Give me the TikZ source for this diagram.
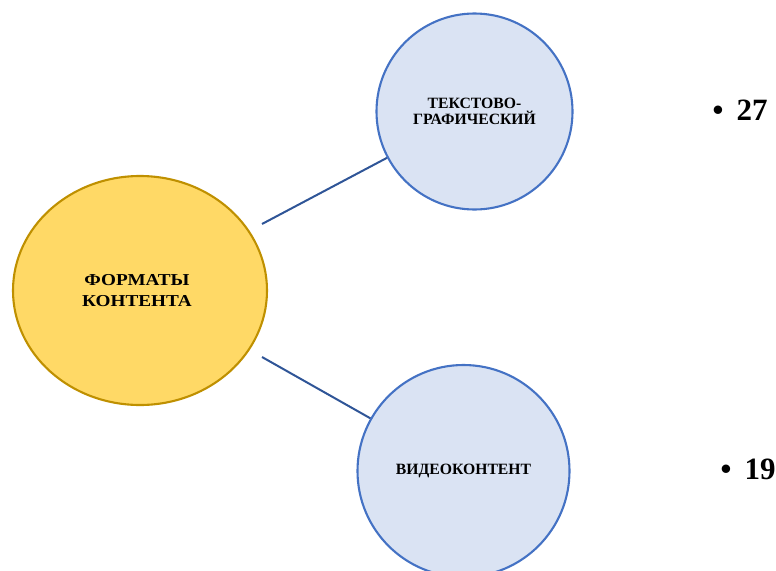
\documentclass[tikz,border=0pt]{standalone}
\usepackage{fontspec}
\setmainfont{Liberation Serif}
\newfontfamily\hubfont[FakeStretch=1.15]{Liberation Serif}
\usetikzlibrary{shapes.geometric}
\definecolor{goldfill}{HTML}{FFD966}
\definecolor{goldline}{HTML}{BF9000}
\definecolor{bluefill}{HTML}{DAE3F3}
\definecolor{blueline}{HTML}{4472C4}
\definecolor{linkline}{HTML}{2F5597}
\tikzset{
  hub/.style={ellipse, draw=goldline, fill=goldfill, line width=2.1pt,
    minimum width=254pt, minimum height=229pt, inner sep=0pt,
    font=\hubfont\bfseries\fontsize{16.7}{21.5}\selectfont, align=center},
  leaf/.style={circle, draw=blueline, fill=bluefill, line width=2.1pt,
    inner sep=0pt, align=center, font=\bfseries\fontsize{15.7}{16.5}\selectfont},
  link/.style={draw=linkline, line width=2pt},
  num/.style={font=\bfseries\fontsize{31}{33}\selectfont, anchor=base west, inner sep=0pt}
}
\begin{document}
\begin{tikzpicture}[x=1pt, y=-1pt]
\useasboundingbox (0,0) rectangle (776,570);
\node[hub] (hub) at (140,290.5) {ФОРМАТЫ\hspace*{6pt}\\КОНТЕНТА\hspace*{6pt}};
\node[leaf, minimum size=196pt] (top) at (474.5,111.5) {ТЕКСТОВО-\\ГРАФИЧЕСКИЙ};
\node[leaf, minimum size=212pt] (bot) at (463.5,471) {ВИДЕОКОНТЕНТ};
\coordinate (s1) at (262,224);
\coordinate (s2) at (262,357);
\draw[link] (s1) -- (top);
\draw[link] (s2) -- (bot);
\node[num] (n1) at (712.5,120) {\textbullet\hspace{13pt}27};
\node[num] (n2) at (720.5,479) {\textbullet\hspace{13pt}19};
\end{tikzpicture}
\end{document}
